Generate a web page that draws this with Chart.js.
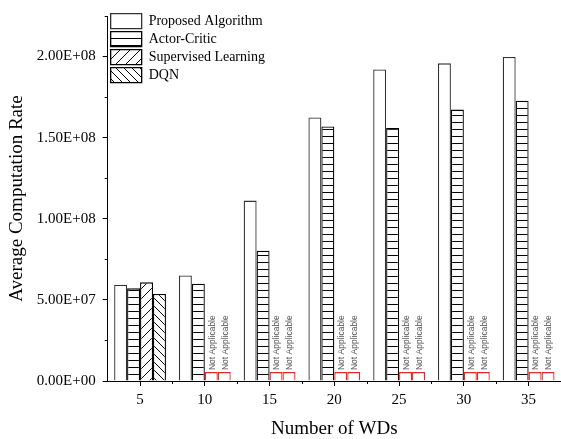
<!DOCTYPE html>
<html>
<head>
<meta charset="utf-8">
<script src="https://cdn.jsdelivr.net/npm/chart.js@4"></script>
<style>
  html, body { margin: 0; padding: 0; background: #fff; overflow: hidden; }
</style>
</head>
<body>
<canvas id="grafico" width="561" height="439"></canvas>
<script>
// numero de WDs
const wds = ['5', '10', '15', '20', '25', '30', '35'];
const proposed = [5.94e7, 6.5e7, 1.112e8, 1.624e8, 1.92e8, 1.958e8, 1.997e8];
const actorCritic = [5.71e7, 6.0e7, 8.03e7, 1.569e8, 1.56e8, 1.673e8, 1.728e8];
const supervised = [6.08e7, null, null, null, null, null, null];
const dqn = [5.37e7, null, null, null, null, null, null];
const yTicks = [0, 5e7, 1e8, 1.5e8, 2e8];
const naValue = 5.5e6; // altura da caixa "Not Applicable"

function hatch(tipo) {
  const c = document.createElement('canvas');
  const s = tipo === 'h' ? 7 : (tipo === '/' ? 10 : 8);
  c.width = s; c.height = s;
  const g = c.getContext('2d');
  g.fillStyle = '#fff';
  g.fillRect(0, 0, s, s);
  g.strokeStyle = '#000';
  g.lineWidth = 1;
  g.beginPath();
  if (tipo === 'h') {
    g.moveTo(0, 3.5); g.lineTo(s, 3.5);
  } else if (tipo === '/') {
    g.moveTo(-1, s + 1); g.lineTo(s + 1, -1);
    g.moveTo(-1, 1); g.lineTo(1, -1);
    g.moveTo(s - 1, s + 1); g.lineTo(s + 1, s - 1);
  } else {
    g.moveTo(-1, -1); g.lineTo(s + 1, s + 1);
    g.moveTo(s - 1, -1); g.lineTo(s + 1, 1);
    g.moveTo(-1, s - 1); g.lineTo(1, s + 1);
  }
  g.stroke();
  return document.getElementById('grafico').getContext('2d').createPattern(c, 'repeat');
}

function formatE(v) {
  if (v === 0) return '0.00E+00';
  const exp = Math.floor(Math.log10(Math.abs(v)));
  const m = v / Math.pow(10, exp);
  return m.toFixed(2) + 'E+' + String(exp).padStart(2, '0');
}

const naDados = [supervised, dqn];

const notApplicable = {
  id: 'notApplicable',
  afterDatasetsDraw(chart) {
    const ctx = chart.ctx;
    [2, 3].forEach(function(di, k) {
      const meta = chart.getDatasetMeta(di);
      meta.data.forEach(function(bar, i) {
        if (naDados[k][i] !== null) return;
        ctx.save();
        ctx.translate(bar.x + 1, bar.y - 2);
        ctx.rotate(-Math.PI / 2);
        ctx.font = '8.5px "Liberation Sans"';
        ctx.fillStyle = '#555';
        ctx.textAlign = 'left';
        ctx.textBaseline = 'middle';
        ctx.fillText('Not Applicable', 0, 0);
        ctx.restore();
      });
    });
  },
  afterDraw(chart) {
    const ctx = chart.ctx;
    const x = chart.scales.x, y = chart.scales.y;
    ctx.save();
    ctx.strokeStyle = '#000';
    ctx.lineWidth = 1;
    ctx.beginPath();
    const n = wds.length;
    for (let i = 1; i < n; i++) {
      const px = Math.round(x.left + i * (x.right - x.left) / n) + 0.5;
      ctx.moveTo(px, y.bottom); ctx.lineTo(px, y.bottom + 3);
    }
    for (let i = 0; i < yTicks.length; i++) {
      const py = Math.round(y.getPixelForValue(yTicks[i] + 2.5e7)) + 0.5;
      ctx.moveTo(x.left, py); ctx.lineTo(x.left - 3, py);
    }
    ctx.stroke();
    ctx.restore();
  }
};

const padrao = { h: hatch('h'), s: hatch('/'), d: hatch('\\') };

function naStyle(normal, na) {
  return function(c) { return c.dataIndex > 0 ? na : normal; };
}

new Chart(document.getElementById('grafico'), {
  type: 'bar',
  data: {
    labels: wds,
    datasets: [{
      label: 'Proposed Algorithm',
      data: proposed,
      backgroundColor: '#fff',
      borderColor: '#333',
      borderWidth: 1.3
    }, {
      label: 'Actor-Critic',
      data: actorCritic,
      backgroundColor: padrao.h,
      borderColor: '#000',
      borderWidth: 1.3
    }, {
      label: 'Supervised Learning',
      data: supervised.map(v => v === null ? naValue : v),
      backgroundColor: naStyle(padrao.s, '#fff'),
      borderColor: naStyle('#000', '#e8262a'),
      borderWidth: 1.3
    }, {
      label: 'DQN',
      data: dqn.map(v => v === null ? naValue : v),
      backgroundColor: naStyle(padrao.d, '#fff'),
      borderColor: naStyle('#000', '#e8262a'),
      borderWidth: 1.3
    }]
  },
  options: {
    responsive: false,
    animation: false,
    layout: { padding: { top: 13, right: 0, left: 6, bottom: 0 } },
    datasets: { bar: { categoryPercentage: 0.8, barPercentage: 1.0 } },
    plugins: {
      tooltip: { enabled: false },
      legend: {
        position: 'chartArea',
        align: 'start',
        title: { display: true, text: '', font: { size: 1 }, padding: { top: 9.5, bottom: 0 } },
        labels: {
          boxWidth: 31,
          boxHeight: 15,
          padding: 3,
          color: '#000',
          font: { family: '"Liberation Serif"', size: 14 }
        }
      }
    },
    scales: {
      x: {
        grid: { display: true, drawOnChartArea: false, offset: false, tickLength: 5, color: '#000' },
        border: { display: true, color: '#000', width: 1 },
        ticks: { color: '#000', font: { family: '"Liberation Serif"', size: 15 }, padding: 5 },
        title: { display: true, text: 'Number of WDs', color: '#000', font: { family: '"Liberation Serif"', size: 19, lineHeight: 1 }, padding: { top: 6, bottom: 0 } }
      },
      y: {
        min: 0,
        max: 2.25e8,
        afterBuildTicks: function(axis) { axis.ticks = yTicks.map(v => ({ value: v })); },
        grid: { display: true, drawOnChartArea: false, tickLength: 5, color: '#000' },
        border: { display: true, color: '#000', width: 1 },
        ticks: { color: '#000', font: { family: '"Liberation Serif"', size: 15 }, padding: 7, callback: v => formatE(v) },
        title: { display: true, text: 'Average Computation Rate', color: '#000', font: { family: '"Liberation Serif"', size: 19 }, padding: { top: 0, bottom: 1 } }
      }
    }
  },
  plugins: [notApplicable]
});
</script>
</body>
</html>
